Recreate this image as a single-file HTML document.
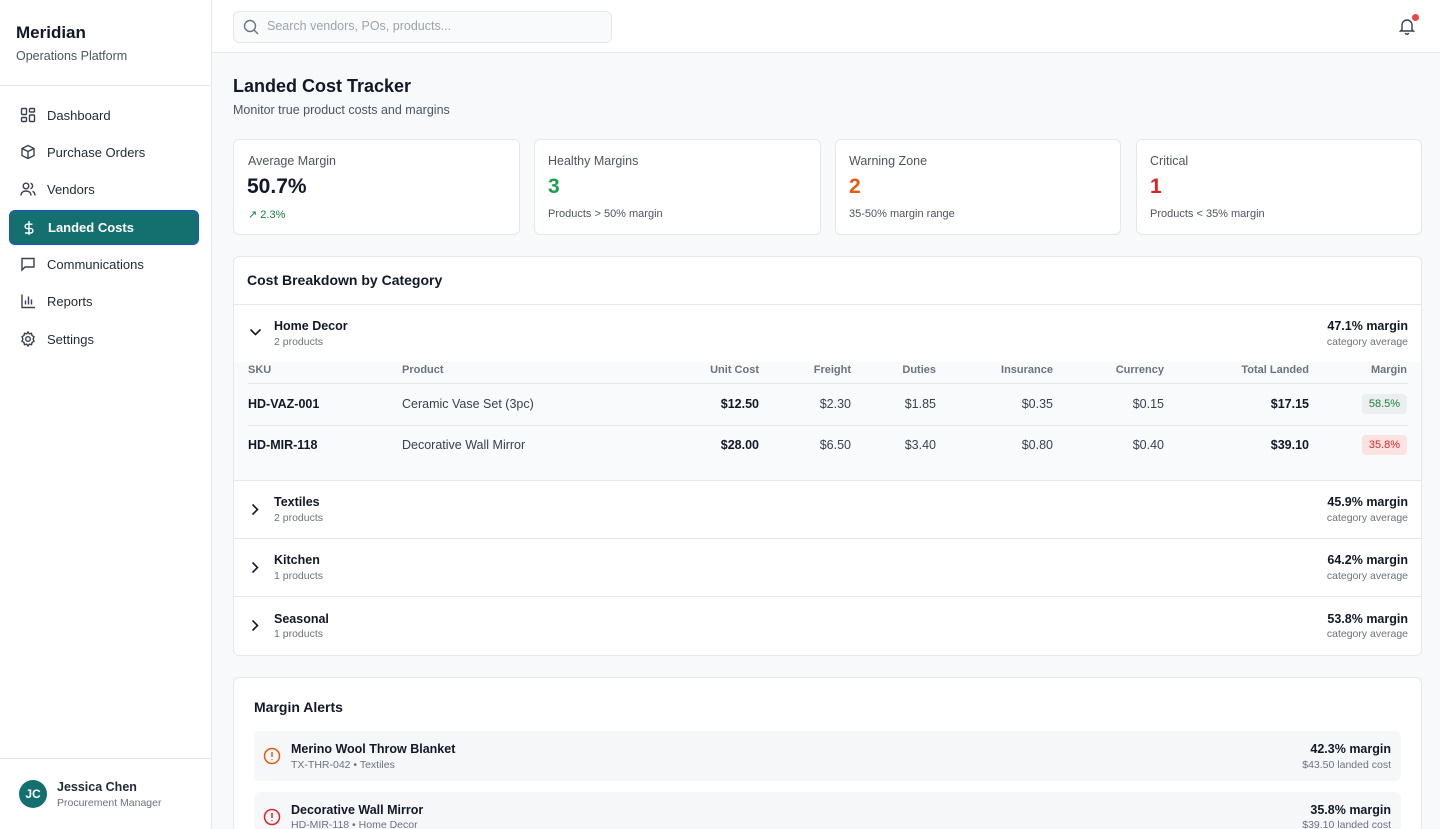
<!DOCTYPE html>
<html style="width:1440px;height:829px;overflow:hidden"><head><meta charset="utf-8"><style>
*{box-sizing:border-box;margin:0;padding:0}
html,body{overflow:hidden}
body{width:1440px;height:829px;overflow:hidden;font-family:"Liberation Sans",sans-serif;background:#f8f9fb;color:#111827;position:relative}
.a{position:absolute;white-space:nowrap}
.side{position:absolute;left:0;top:0;width:212px;height:829px;background:#fff;border-right:1px solid #e5e7eb}
.nav{position:absolute;left:9px;width:190px;height:34px;font-size:13px;color:#1f2937;display:flex;align-items:center;padding-left:11px}
.nav svg{margin-right:11px}
.card{position:absolute;background:#fff;border:1px solid #e5e7eb;border-radius:6px}
.lbl{font-size:12.5px;color:#4b5563}
.th{font-size:11px;font-weight:bold;color:#6b7280}
.r{text-align:right}
</style></head><body>
<div class="side">
 <div class="a" style="left:16px;top:23px;font-size:17px;font-weight:bold">Meridian</div>
 <div class="a" style="left:16px;top:49px;font-size:12.5px;color:#4b5563">Operations Platform</div>
 <div class="a" style="left:0;top:85px;width:211px;border-top:1px solid #e5e7eb"></div>
 <div class="nav" style="top:98px"><svg width="16" height="16" viewBox="0 0 16 16" fill="none" stroke="#374151" stroke-width="1.4"><rect x="1.5" y="1.5" width="5" height="6" rx="1"/><rect x="9.5" y="1.5" width="5" height="3.5" rx="1"/><rect x="9.5" y="8" width="5" height="6.5" rx="1"/><rect x="1.5" y="10.5" width="5" height="4" rx="1"/></svg>Dashboard</div>
 <div class="nav" style="top:135px"><svg width="16" height="16" viewBox="0 0 16 16" fill="none" stroke="#374151" stroke-width="1.4"><path d="M8 1.5l6 3v7l-6 3-6-3v-7z M2 4.5l6 3 6-3 M8 7.5v7"/></svg>Purchase Orders</div>
 <div class="nav" style="top:172px"><svg width="16" height="16" viewBox="0 0 16 16" fill="none" stroke="#374151" stroke-width="1.4"><circle cx="6" cy="5" r="2.8"/><path d="M1 14.5c0-3 2.2-4.5 5-4.5s5 1.5 5 4.5 M10.5 2.3a2.8 2.8 0 010 5.4 M12.5 10.3c1.5.6 2.5 2 2.5 4.2"/></svg>Vendors</div>
 <div class="nav" style="top:210px;background:#13706f;color:#fff;font-weight:bold;border:1.5px solid #1d4ed8;border-radius:6px;height:35px"><svg width="16" height="16" viewBox="0 0 16 16" fill="none" stroke="#fff" stroke-width="1.4"><path d="M8 1v14 M11.5 4.2H6.3a2.2 2.2 0 000 4.4h3.4a2.2 2.2 0 010 4.4H4"/></svg>Landed Costs</div>
 <div class="nav" style="top:247px"><svg width="16" height="16" viewBox="0 0 16 16" fill="none" stroke="#374151" stroke-width="1.4"><path d="M2 2.5h12v8.5H5l-3 3z"/></svg>Communications</div>
 <div class="nav" style="top:284px"><svg width="16" height="16" viewBox="0 0 16 16" fill="none" stroke="#374151" stroke-width="1.4"><path d="M2 1.5v13h13 M5.5 11.5v-4 M8.5 11.5v-8 M11.5 11.5v-5"/></svg>Reports</div>
 <div class="nav" style="top:322px"><svg width="16" height="16" viewBox="0 0 16 16" fill="none" stroke="#374151" stroke-width="1.4"><circle cx="8" cy="8" r="2.3"/><path d="M8 1l1.3 1.8 2.2-.5.5 2.2L14 5.8l-.9 2.2.9 2.2-2 1.3-.5 2.2-2.2-.5L8 15l-1.3-1.8-2.2.5-.5-2.2L2 10.2 2.9 8 2 5.8l2-1.3.5-2.2 2.2.5z"/></svg>Settings</div>
 <div class="a" style="left:0;top:758px;width:211px;border-top:1px solid #e5e7eb"></div>
 <div class="a" style="left:19px;top:780px;width:28px;height:28px;border-radius:50%;background:#13706f;color:#fff;font-size:12px;font-weight:bold;text-align:center;line-height:28px">JC</div>
 <div class="a" style="left:57px;top:780px;font-size:12.5px;font-weight:bold;color:#1f2937">Jessica Chen</div>
 <div class="a" style="left:57px;top:797px;font-size:10.5px;color:#6b7280">Procurement Manager</div>
</div>
<div class="a" style="left:212px;top:0;width:1228px;height:53px;background:#fff;border-bottom:1px solid #e5e7eb"></div>
<div class="a" style="left:233px;top:11px;width:379px;height:32px;background:#f9fafb;border:1px solid #e5e7eb;border-radius:6px"></div>
<svg class="a" style="left:243px;top:19px" width="16" height="16" viewBox="0 0 16 16" fill="none" stroke="#6b7280" stroke-width="1.4"><circle cx="7" cy="7" r="5.5"/><path d="M11 11l4 4"/></svg>
<div class="a" style="left:267px;top:19px;font-size:12.5px;color:#9ca3af">Search vendors, POs, products...</div>
<svg class="a" style="left:1398px;top:17px" width="18" height="18" viewBox="0 0 18 18" fill="none" stroke="#374151" stroke-width="1.4"><path d="M4 12.5V8a5 5 0 0110 0v4.5l1.5 1.5h-13z M7.3 16a1.8 1.8 0 003.4 0"/></svg>
<div class="a" style="left:1412px;top:14px;width:7px;height:7px;border-radius:50%;background:#ef4444"></div>

<div class="a" style="left:233px;top:76px;font-size:18px;font-weight:bold">Landed Cost Tracker</div>
<div class="a" style="left:233px;top:103px;font-size:12.5px;color:#4b5563">Monitor true product costs and margins</div>

<div class="card" style="left:233px;top:139px;width:287px;height:96px"></div>
<div class="a lbl" style="left:248px;top:154px">Average Margin</div>
<div class="a" style="left:247px;top:175px;font-size:21px;font-weight:bold">50.7%</div>
<div class="a" style="left:248px;top:208px;font-size:11px;color:#15803d"><span style="font-size:11px">↗</span> 2.3%</div>
<div class="card" style="left:534px;top:139px;width:287px;height:96px"></div>
<div class="a lbl" style="left:548px;top:154px">Healthy Margins</div>
<div class="a" style="left:548px;top:175px;font-size:21px;font-weight:bold;color:#16a34a">3</div>
<div class="a" style="left:548px;top:208px;font-size:11px;color:#4b5563">Products &gt; 50% margin</div>
<div class="card" style="left:835px;top:139px;width:286px;height:96px"></div>
<div class="a lbl" style="left:849px;top:154px">Warning Zone</div>
<div class="a" style="left:849px;top:175px;font-size:21px;font-weight:bold;color:#ea580c">2</div>
<div class="a" style="left:849px;top:208px;font-size:11px;color:#4b5563">35-50% margin range</div>
<div class="card" style="left:1136px;top:139px;width:286px;height:96px"></div>
<div class="a lbl" style="left:1150px;top:154px">Critical</div>
<div class="a" style="left:1150px;top:175px;font-size:21px;font-weight:bold;color:#dc2626">1</div>
<div class="a" style="left:1150px;top:208px;font-size:11px;color:#4b5563">Products &lt; 35% margin</div>

<div class="card" style="left:233px;top:256px;width:1189px;height:400px;overflow:hidden">
 <div class="a" style="left:0;top:105px;width:1189px;height:119px;background:#f9fafb"></div>
 <div class="a" style="left:0;top:47px;width:1189px;border-top:1px solid #e5e7eb"></div>
 <div class="a" style="left:0;top:223px;width:1189px;border-top:1px solid #e5e7eb"></div>
 <div class="a" style="left:0;top:281px;width:1189px;border-top:1px solid #e5e7eb"></div>
 <div class="a" style="left:0;top:339px;width:1189px;border-top:1px solid #e5e7eb"></div>
 <div class="a" style="left:14px;top:126px;width:1160px;border-top:1px solid #e5e7eb"></div>
 <div class="a" style="left:14px;top:168px;width:1160px;border-top:1px solid #e5e7eb"></div>
</div>
<div class="a" style="left:247px;top:272px;font-size:14px;font-weight:bold">Cost Breakdown by Category</div>

<svg class="a" style="left:249px;top:327px" width="13" height="10" viewBox="0 0 13 10" fill="none" stroke="#111827" stroke-width="1.6"><path d="M1.5 2.5l5 5 5-5"/></svg>
<div class="a" style="left:274px;top:319px;font-size:12.5px;font-weight:bold">Home Decor</div>
<div class="a" style="left:274px;top:336px;font-size:10.5px;color:#6b7280">2 products</div>
<div class="a r" style="right:32px;top:319px;font-size:12.5px;font-weight:bold">47.1% margin</div>
<div class="a r" style="right:32px;top:336px;font-size:10.5px;color:#6b7280">category average</div>

<div class="a th" style="left:248px;top:364px">SKU</div>
<div class="a th" style="left:402px;top:364px">Product</div>
<div class="a th r" style="right:681px;top:364px">Unit Cost</div>
<div class="a th r" style="right:589px;top:364px">Freight</div>
<div class="a th r" style="right:504px;top:364px">Duties</div>
<div class="a th r" style="right:387px;top:364px">Insurance</div>
<div class="a th r" style="right:276px;top:364px">Currency</div>
<div class="a th r" style="right:131px;top:364px">Total Landed</div>
<div class="a th r" style="right:33px;top:364px">Margin</div>

<div class="a" style="left:248px;top:397px;font-size:12.5px;font-weight:bold">HD-VAZ-001</div>
<div class="a" style="left:402px;top:397px;font-size:12.5px;color:#374151">Ceramic Vase Set (3pc)</div>
<div class="a r" style="right:681px;top:397px;font-size:12.5px;font-weight:bold">$12.50</div>
<div class="a r" style="right:589px;top:397px;font-size:12.5px;color:#374151">$2.30</div>
<div class="a r" style="right:504px;top:397px;font-size:12.5px;color:#374151">$1.85</div>
<div class="a r" style="right:387px;top:397px;font-size:12.5px;color:#374151">$0.35</div>
<div class="a r" style="right:276px;top:397px;font-size:12.5px;color:#374151">$0.15</div>
<div class="a r" style="right:131px;top:397px;font-size:12.5px;font-weight:bold">$17.15</div>
<div class="a" style="left:1362px;top:394px;width:45px;height:20px;border-radius:4px;background:#eceef0;color:#15803d;font-size:11px;text-align:center;line-height:20px">58.5%</div>

<div class="a" style="left:248px;top:438px;font-size:12.5px;font-weight:bold">HD-MIR-118</div>
<div class="a" style="left:402px;top:438px;font-size:12.5px;color:#374151">Decorative Wall Mirror</div>
<div class="a r" style="right:681px;top:438px;font-size:12.5px;font-weight:bold">$28.00</div>
<div class="a r" style="right:589px;top:438px;font-size:12.5px;color:#374151">$6.50</div>
<div class="a r" style="right:504px;top:438px;font-size:12.5px;color:#374151">$3.40</div>
<div class="a r" style="right:387px;top:438px;font-size:12.5px;color:#374151">$0.80</div>
<div class="a r" style="right:276px;top:438px;font-size:12.5px;color:#374151">$0.40</div>
<div class="a r" style="right:131px;top:438px;font-size:12.5px;font-weight:bold">$39.10</div>
<div class="a" style="left:1362px;top:435px;width:45px;height:20px;border-radius:4px;background:#fde2e2;color:#dc2626;font-size:11px;text-align:center;line-height:20px">35.8%</div>

<svg class="a" style="left:250px;top:503px" width="10" height="13" viewBox="0 0 10 13" fill="none" stroke="#111827" stroke-width="1.6"><path d="M2.5 1.5l5 5-5 5"/></svg>
<div class="a" style="left:274px;top:495px;font-size:12.5px;font-weight:bold">Textiles</div>
<div class="a" style="left:274px;top:512px;font-size:10.5px;color:#6b7280">2 products</div>
<div class="a r" style="right:32px;top:495px;font-size:12.5px;font-weight:bold">45.9% margin</div>
<div class="a r" style="right:32px;top:512px;font-size:10.5px;color:#6b7280">category average</div>

<svg class="a" style="left:250px;top:561px" width="10" height="13" viewBox="0 0 10 13" fill="none" stroke="#111827" stroke-width="1.6"><path d="M2.5 1.5l5 5-5 5"/></svg>
<div class="a" style="left:274px;top:553px;font-size:12.5px;font-weight:bold">Kitchen</div>
<div class="a" style="left:274px;top:570px;font-size:10.5px;color:#6b7280">1 products</div>
<div class="a r" style="right:32px;top:553px;font-size:12.5px;font-weight:bold">64.2% margin</div>
<div class="a r" style="right:32px;top:570px;font-size:10.5px;color:#6b7280">category average</div>

<svg class="a" style="left:250px;top:619px" width="10" height="13" viewBox="0 0 10 13" fill="none" stroke="#111827" stroke-width="1.6"><path d="M2.5 1.5l5 5-5 5"/></svg>
<div class="a" style="left:274px;top:612px;font-size:12.5px;font-weight:bold">Seasonal</div>
<div class="a" style="left:274px;top:628px;font-size:10.5px;color:#6b7280">1 products</div>
<div class="a r" style="right:32px;top:612px;font-size:12.5px;font-weight:bold">53.8% margin</div>
<div class="a r" style="right:32px;top:628px;font-size:10.5px;color:#6b7280">category average</div>

<div class="card" style="left:233px;top:677px;width:1189px;height:160px"></div>
<div class="a" style="left:254px;top:699px;font-size:14px;font-weight:bold">Margin Alerts</div>
<div class="a" style="left:254px;top:731px;width:1147px;height:50px;background:#f6f7f9;border-radius:6px"></div>
<svg class="a" style="left:263px;top:747px" width="18" height="18" viewBox="0 0 18 18" fill="none" stroke="#ea580c" stroke-width="1.5"><circle cx="9" cy="9" r="7.5"/><path d="M9 5v5 M9 12.3v.8"/></svg>
<div class="a" style="left:291px;top:742px;font-size:12.5px;font-weight:bold">Merino Wool Throw Blanket</div>
<div class="a" style="left:291px;top:759px;font-size:10.5px;color:#6b7280">TX-THR-042 • Textiles</div>
<div class="a r" style="right:49px;top:742px;font-size:12.5px;font-weight:bold">42.3% margin</div>
<div class="a r" style="right:49px;top:759px;font-size:10.5px;color:#6b7280">$43.50 landed cost</div>
<div class="a" style="left:254px;top:792px;width:1147px;height:37px;background:#f6f7f9;border-radius:6px 6px 0 0"></div>
<svg class="a" style="left:263px;top:808px" width="18" height="18" viewBox="0 0 18 18" fill="none" stroke="#dc2626" stroke-width="1.5"><circle cx="9" cy="9" r="7.5"/><path d="M9 5v5 M9 12.3v.8"/></svg>
<div class="a" style="left:291px;top:803px;font-size:12.5px;font-weight:bold">Decorative Wall Mirror</div>
<div class="a" style="left:291px;top:819px;font-size:10.5px;color:#6b7280;height:10px;overflow:hidden">HD-MIR-118 • Home Decor</div>
<div class="a r" style="right:49px;top:803px;font-size:12.5px;font-weight:bold">35.8% margin</div>
<div class="a r" style="right:49px;top:819px;font-size:10.5px;color:#6b7280;height:10px;overflow:hidden">$39.10 landed cost</div>
</body></html>
